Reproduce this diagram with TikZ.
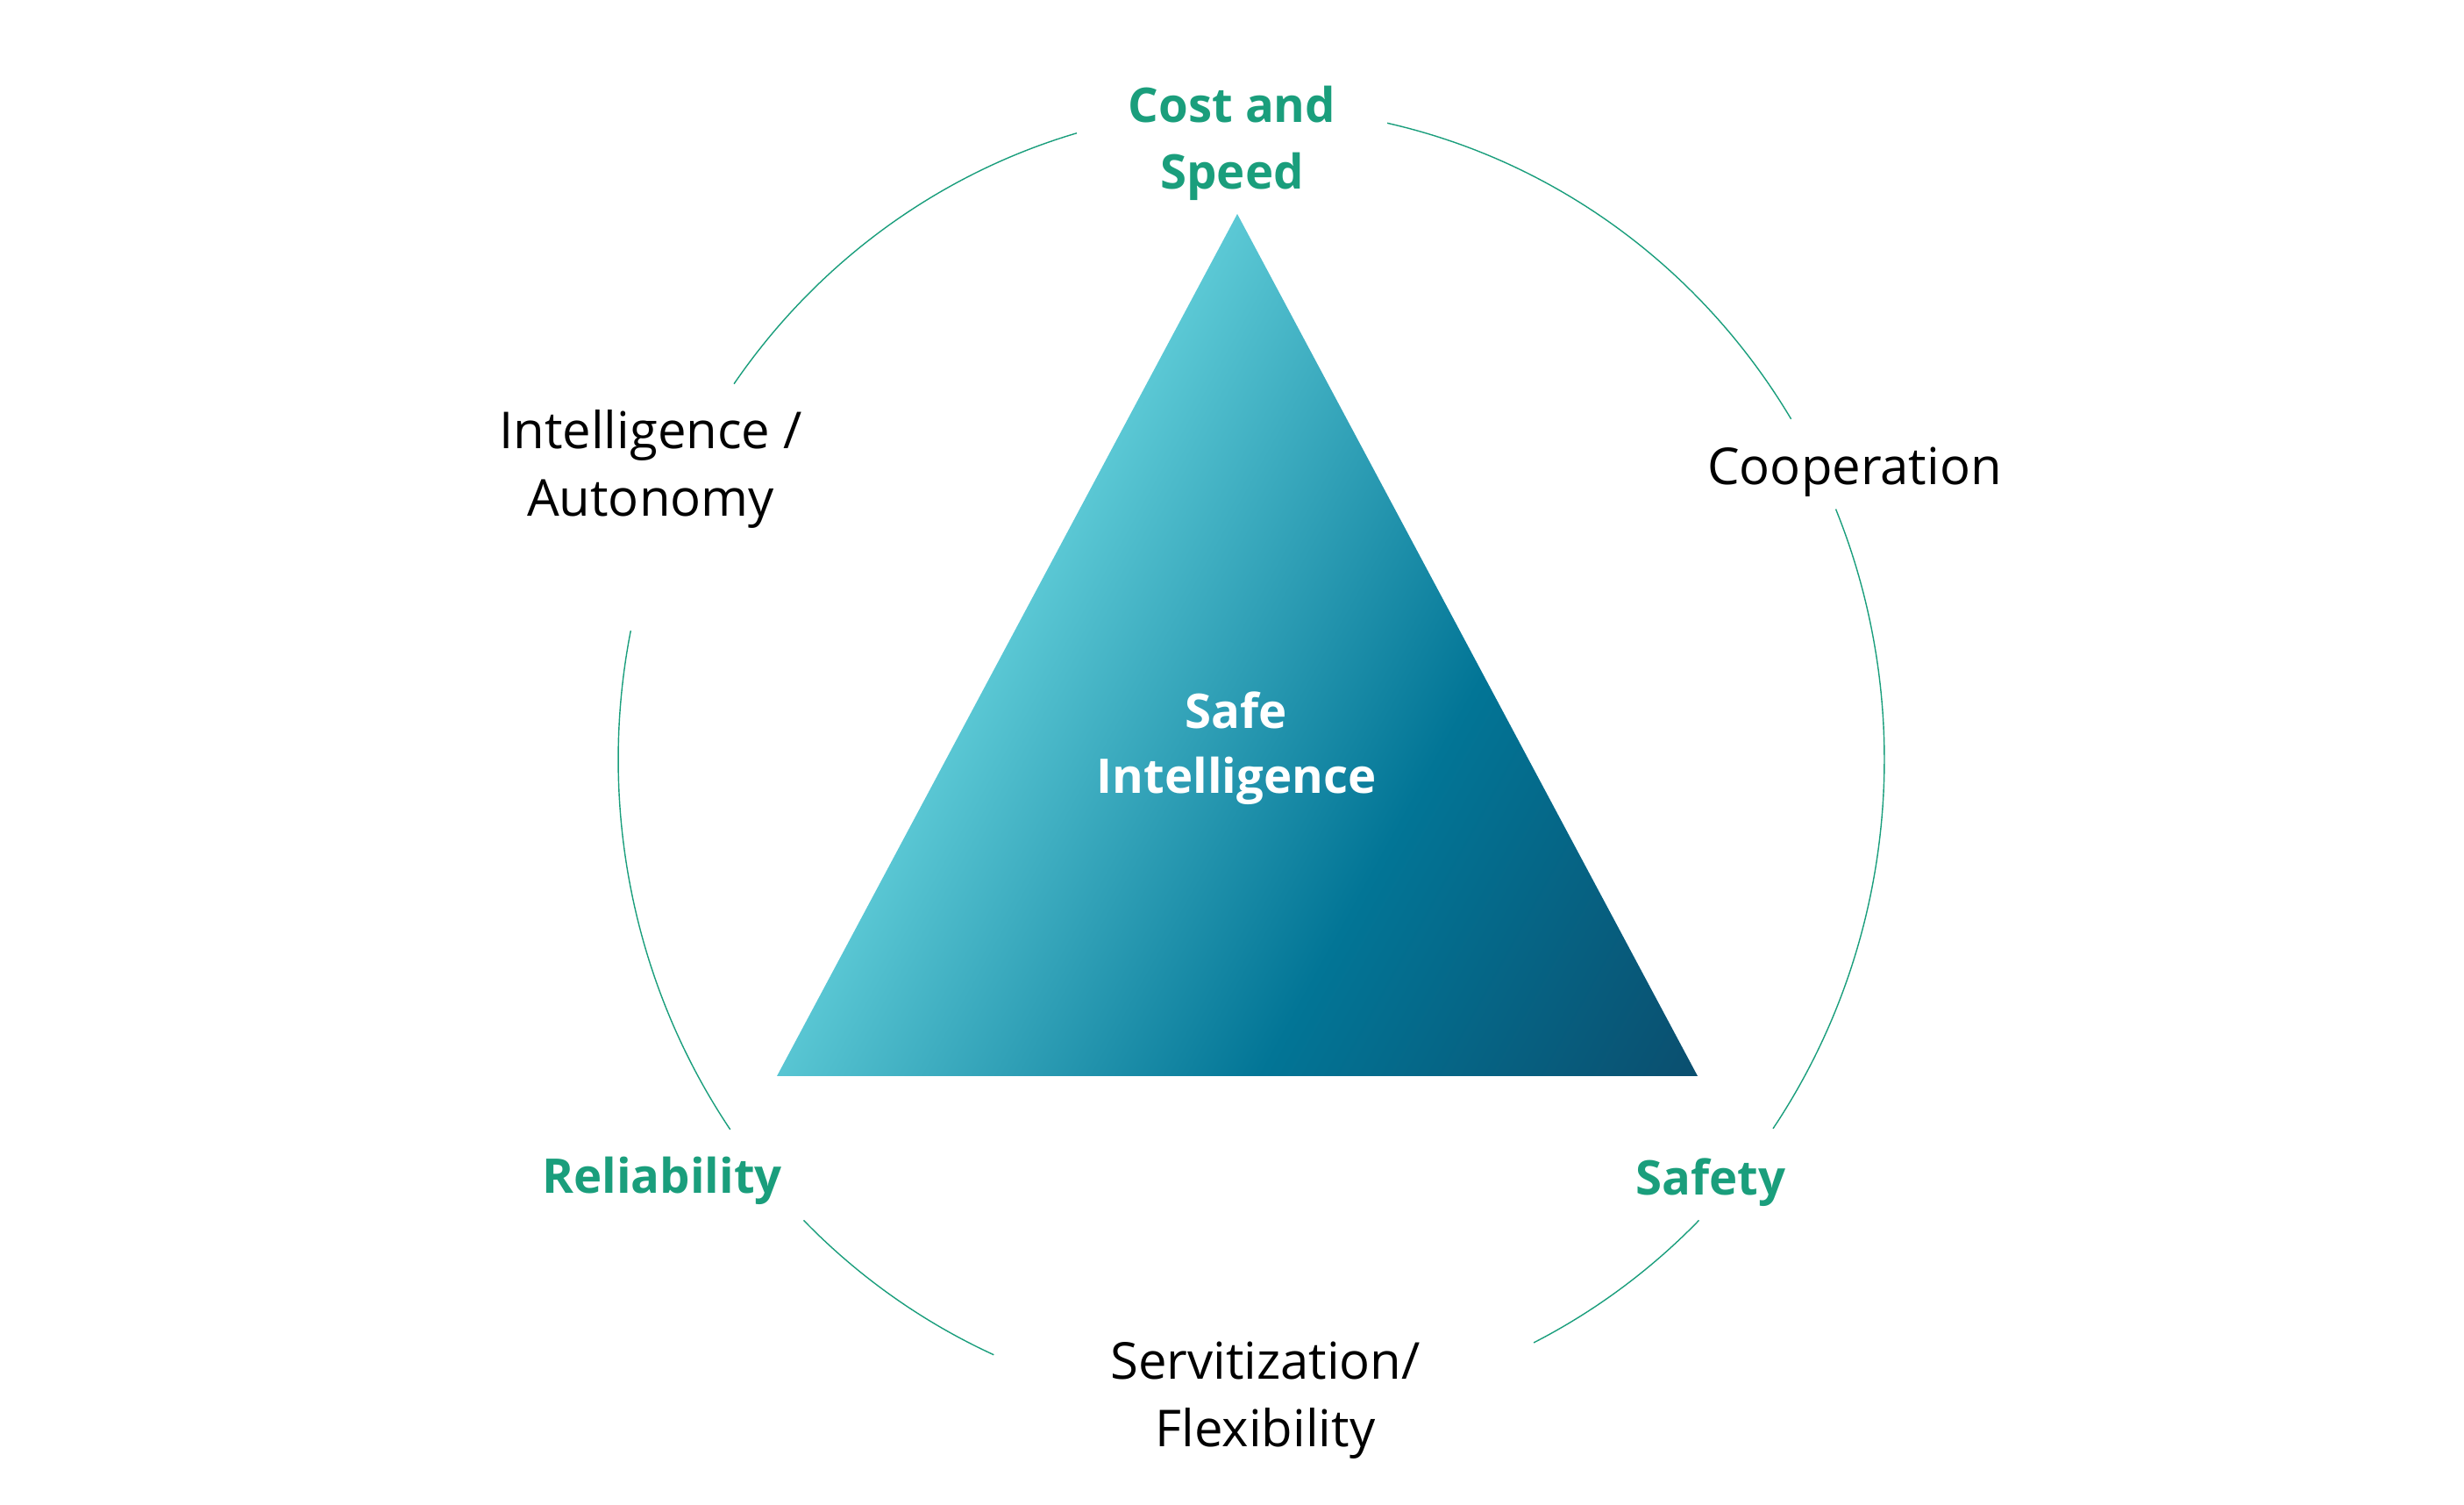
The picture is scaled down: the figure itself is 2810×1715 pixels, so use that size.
\documentclass[tikz,border=0pt]{standalone}
\usepackage{fontspec}
\setmainfont{Open Sans}
\definecolor{ringgreen}{HTML}{1A9E7C}
\definecolor{trilight}{HTML}{5DCAD6}
\definecolor{trimid}{HTML}{027596}
\definecolor{tridark}{HTML}{0C4868}
\tikzset{
    ring/.style={draw=ringgreen, line width=0.4pt},
    plainlabel/.style={font=\fontsize{16.5}{21.9}\selectfont, align=center, inner sep=0pt, text=black},
    keylabel/.style={font=\bfseries\fontsize{15.5}{21.6}\selectfont, align=center, inner sep=0pt, text=ringgreen},
}
\begin{document}
\begin{tikzpicture}[x=0.01cm, y=0.01cm]
    \useasboundingbox (0,0) rectangle (2810,1715);

    % triangle with its gradient
    \coordinate (apex) at (1411,1471);
    \coordinate (left) at (886,488);
    \coordinate (right) at (1936,488);
    \begin{scope}
        \clip (apex) -- (left) -- (right) -- cycle;
        \begin{scope}[transform canvas={shift={(apex)}, rotate=-29}]
            \shade[left color=trilight, right color=tridark, middle color=trimid] (-10,-1300) rectangle (1010,1300);
        \end{scope}
    \end{scope}
    \node[keylabel, text=white, font=\bfseries\fontsize{15.5}{21.05}\selectfont] (core) at (1410,862) {Safe\\Intelligence};

    % broken ring
    \coordinate (mid) at (1427,849);
    \foreach \a/\b in {106/144.8, 31.5/77.6, -34.5/22.6, -63.5/-45, -135/-114, 168.6/214.6}
        \draw[ring] (mid) ++(\a:722 and 743) arc[start angle=\a, end angle=\b, x radius=722, y radius=743];

    % labels on the ring
    \begin{scope}[every node/.style={keylabel}]
        \node (cost) at (1405,1552) {Cost and\\Speed};
        \node[anchor=base] (reli) at (755,355) {Reliability};
        \node[anchor=base] (safety) at (1951,353) {Safety};
    \end{scope}

    \begin{scope}[every node/.style={plainlabel}]
        \node (intel) at (742,1180.5) {Intelligence /\\Autonomy};
        \node[anchor=base] (coop) at (2115,1162) {Cooperation};
        \node (servi) at (1443,118.5) {Servitization/\\Flexibility};
    \end{scope}
\end{tikzpicture}
\end{document}
